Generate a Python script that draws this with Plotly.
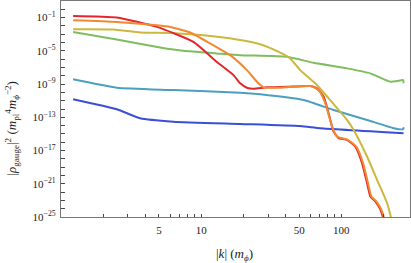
import numpy as np
import plotly.graph_objects as go

# |k| values (m_phi) and log10 |rho_gauge|^2 values
red_k = [1.22, 2.5, 4.83, 8.81, 12.9, 17.0, 19.0, 21.2, 23.6, 29.5, 45.0, 60.1, 67.0, 74.8, 83.5, 88.1, 95.7,
         109.8, 125.9, 140.6, 152.6, 161.1, 174.9, 190.0, 198.6, 206.0]
red_log = [-0.80, -0.99, -2.12, -3.92, -6.32, -7.92, -8.91, -9.44, -9.56, -9.39, -9.30, -9.24, -9.51, -10.52,
           -13.32, -14.72, -15.51, -15.72, -16.52, -18.51, -20.91, -22.52, -23.12, -24.12, -25.12, -26.5]

orange_k = [1.22, 2.5, 4.83, 6.01, 8.34, 11.6, 16.1, 21.2, 25.0, 27.9, 36.7, 60.1, 68.9, 76.9, 85.9, 93.0,
            111.5, 128.0, 143.0, 155.0, 164.0, 178.0, 193.0, 202.0, 209.0]
orange_log = [-1.32, -1.52, -1.92, -2.12, -2.79, -4.11, -5.52, -7.32, -8.72, -9.39, -9.44, -9.24, -9.72,
              -11.31, -14.12, -15.32, -15.72, -16.52, -18.51, -20.91, -22.52, -23.12, -24.12, -25.12, -26.5]

yellow_k = [1.22, 2.36, 3.67, 6.01, 10.4, 18.0, 26.4, 36.7, 43.2, 50.9, 67.0, 88.1, 109.8, 122.4, 152.6,
            179.8, 212.0, 226.4, 235.0]
yellow_log = [-2.40, -2.43, -2.79, -2.84, -3.12, -3.63, -4.20, -5.22, -5.91, -7.32, -9.12, -11.42, -13.32,
              -14.52, -17.72, -20.52, -23.31, -25.11, -26.5]

green_k = [1.22, 2.5, 5.10, 7.47, 12.9, 19.0, 40.9, 63.4, 109.8, 161.1, 223.9, 256.6, 276.0, 278.0]
green_log = [-2.72, -3.63, -4.59, -5.00, -5.31, -5.52, -5.72, -6.44, -7.11, -7.71, -8.72, -8.60, -8.52, -8.91]

cyan_k = [1.22, 2.5, 6.34, 19.0, 26.4, 53.8, 88.1, 152.6, 236.5, 276.0, 279.0]
cyan_log = [-8.43, -9.44, -9.72, -10.04, -10.23, -10.92, -12.12, -13.32, -14.31, -14.43, -14.2]

blue_k = [1.22, 2.5, 3.67, 6.34, 19.0, 50.9, 70.8, 278.0]
blue_log = [-10.83, -12.03, -13.11, -13.52, -13.80, -14.06, -14.31, -14.91]

series = [
    ("blue", blue_k, blue_log, "#3b4fd6"),
    ("cyan", cyan_k, cyan_log, "#4b9fbf"),
    ("green", green_k, green_log, "#7fbd60"),
    ("yellow", yellow_k, yellow_log, "#cbb83c"),
    ("red", red_k, red_log, "#e3262b"),
    ("orange", orange_k, orange_log, "#ef8a33"),
]

x_tickvals = [2, 3, 4, 5, 6, 7, 8, 9, 10, 20, 30, 40, 50, 60, 70, 80, 90, 100, 200]
x_ticktext = ["", "", "", "5", "", "", "", "", "10", "", "", "", "50", "", "", "", "", "100", ""]

y_exps = list(range(1, -26, -1))
y_labeled = [-1, -5, -9, -13, -17, -21, -25]

fig = go.Figure()
for name, k, lg, col in series:
    fig.add_trace(go.Scatter(
        x=k, y=10.0 ** np.array(lg), mode="lines", name=name,
        line=dict(color=col, width=2, shape="spline", smoothing=0.5),
        showlegend=False,
    ))

serif = "Liberation Serif"
fig.update_layout(
    width=411, height=263,
    margin=dict(l=61, r=1, t=1, b=46),
    paper_bgcolor="white", plot_bgcolor="white",
    font=dict(family=serif, size=11, color="#222"),
)
fig.update_xaxes(
    type="log", range=[0, 2.49],
    showgrid=False, zeroline=False,
    showline=True, linecolor="#777", linewidth=1.3, mirror=True,
    ticks="inside", ticklen=3, tickcolor="#444", tickwidth=1,
    tickvals=x_tickvals, ticktext=x_ticktext,
    tickfont=dict(family=serif, size=11, color="#222"),
    ticklabelstandoff=3,
)
fig.update_yaxes(
    type="log", range=[-25, 1],
    showgrid=False, zeroline=False,
    showline=True, linecolor="#777", linewidth=1.3, mirror=True,
    ticks="inside", ticklen=4, tickcolor="#444", tickwidth=1,
    tickvals=[10.0 ** e for e in y_exps],
    ticktext=[("10<sup>\u2212%d</sup>" % (-e)) if e in y_labeled else "" for e in y_exps],
    tickfont=dict(family=serif, size=11, color="#222"),
    ticklabelstandoff=2,
)

fig.add_annotation(
    text="|<i>k</i>| (<i>m</i><sub><i>\u03d5</i></sub>)",
    xref="paper", yref="paper", x=0.497, y=-0.174,
    xanchor="center", yanchor="middle", showarrow=False,
    font=dict(family=serif, size=13, color="#222"),
)
fig.add_annotation(
    text="|<i>\u03c1</i><sub>gauge</sub>|<sup>2</sup> (<i>m</i><sub>pl</sub><sup>4</sup><i>m</i><sub><i>\u03d5</i></sub><sup>\u22122</sup>)",
    xref="paper", yref="paper", x=-0.14, y=0.41,
    xanchor="center", yanchor="middle", textangle=-90, showarrow=False,
    font=dict(family=serif, size=13, color="#222"),
)

fig.write_html("out.html", config={"displayModeBar": False},
               post_script="document.body.style.margin='0';document.body.style.overflow='hidden';")
